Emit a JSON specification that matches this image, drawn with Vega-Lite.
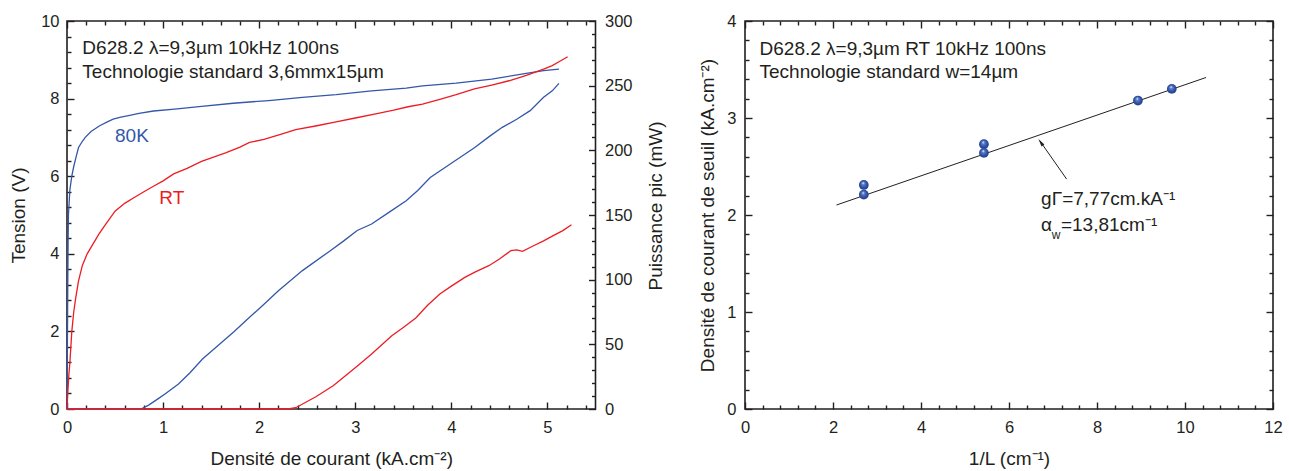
{
  "$schema": "https://vega.github.io/schema/vega-lite/v6.json",
  "background": "white",
  "padding": {"left": 8, "top": 12, "right": 5, "bottom": 5},
  "spacing": 149,
  "bounds": "flush",
  "config": {
    "font": "Liberation Sans",
    "view": {"stroke": "#231f20", "strokeWidth": 1.6},
    "axis": {"grid": false, "domain": false, "zindex": 1, "labelColor": "#231f20", "titleColor": "#231f20", "labelFont": "Liberation Sans", "titleFont": "Liberation Sans", "labelFontSize": 16.5, "titleFontSize": 19, "titleFontWeight": "normal", "labelFlush": false, "labelOverlap": false},
    "text": {"font": "Liberation Sans"}
  },
  "datasets": {
    "iv": [
      {"T":"80K","J":0,"V":0},{"T":"80K","J":0.004,"V":1.5},{"T":"80K","J":0.008,"V":3.2},{"T":"80K","J":0.012,"V":4.4},{"T":"80K","J":0.015,"V":5.0},{"T":"80K","J":0.03,"V":5.65},{"T":"80K","J":0.05,"V":6.0},{"T":"80K","J":0.07,"V":6.25},{"T":"80K","J":0.1,"V":6.55},{"T":"80K","J":0.12,"V":6.74},{"T":"80K","J":0.16,"V":6.9},{"T":"80K","J":0.19,"V":7.0},{"T":"80K","J":0.25,"V":7.15},{"T":"80K","J":0.34,"V":7.3},{"T":"80K","J":0.42,"V":7.4},{"T":"80K","J":0.48,"V":7.47},{"T":"80K","J":0.56,"V":7.52},{"T":"80K","J":0.64,"V":7.56},{"T":"80K","J":0.75,"V":7.62},{"T":"80K","J":0.9,"V":7.68},{"T":"80K","J":1.12,"V":7.73},{"T":"80K","J":1.4,"V":7.8},{"T":"80K","J":1.73,"V":7.88},{"T":"80K","J":2.1,"V":7.95},{"T":"80K","J":2.45,"V":8.03},{"T":"80K","J":2.8,"V":8.1},{"T":"80K","J":3.17,"V":8.2},{"T":"80K","J":3.53,"V":8.27},{"T":"80K","J":3.7,"V":8.33},{"T":"80K","J":4.05,"V":8.4},{"T":"80K","J":4.42,"V":8.5},{"T":"80K","J":4.78,"V":8.65},{"T":"80K","J":4.96,"V":8.72},{"T":"80K","J":5.12,"V":8.76},
      {"T":"RT","J":0,"V":0},{"T":"RT","J":0.01,"V":0.5},{"T":"RT","J":0.02,"V":0.9},{"T":"RT","J":0.03,"V":1.2},{"T":"RT","J":0.05,"V":2.0},{"T":"RT","J":0.07,"V":2.5},{"T":"RT","J":0.09,"V":2.85},{"T":"RT","J":0.12,"V":3.3},{"T":"RT","J":0.16,"V":3.7},{"T":"RT","J":0.21,"V":4.0},{"T":"RT","J":0.27,"V":4.25},{"T":"RT","J":0.33,"V":4.5},{"T":"RT","J":0.4,"V":4.75},{"T":"RT","J":0.5,"V":5.1},{"T":"RT","J":0.6,"V":5.3},{"T":"RT","J":0.7,"V":5.45},{"T":"RT","J":0.8,"V":5.6},{"T":"RT","J":0.9,"V":5.74},{"T":"RT","J":1.0,"V":5.88},{"T":"RT","J":1.11,"V":6.06},{"T":"RT","J":1.25,"V":6.2},{"T":"RT","J":1.4,"V":6.38},{"T":"RT","J":1.51,"V":6.48},{"T":"RT","J":1.65,"V":6.6},{"T":"RT","J":1.8,"V":6.75},{"T":"RT","J":1.9,"V":6.87},{"T":"RT","J":2.05,"V":6.95},{"T":"RT","J":2.24,"V":7.09},{"T":"RT","J":2.38,"V":7.2},{"T":"RT","J":2.6,"V":7.3},{"T":"RT","J":2.8,"V":7.4},{"T":"RT","J":3.0,"V":7.5},{"T":"RT","J":3.2,"V":7.6},{"T":"RT","J":3.4,"V":7.7},{"T":"RT","J":3.55,"V":7.79},{"T":"RT","J":3.7,"V":7.86},{"T":"RT","J":3.88,"V":7.98},{"T":"RT","J":4.05,"V":8.1},{"T":"RT","J":4.24,"V":8.25},{"T":"RT","J":4.42,"V":8.35},{"T":"RT","J":4.6,"V":8.46},{"T":"RT","J":4.78,"V":8.6},{"T":"RT","J":4.96,"V":8.76},{"T":"RT","J":5.05,"V":8.85},{"T":"RT","J":5.12,"V":8.95},{"T":"RT","J":5.21,"V":9.08}
    ],
    "ip": [
      {"T":"80K","J":0,"P":0},{"T":"80K","J":0.77,"P":0},{"T":"80K","J":0.85,"P":3},{"T":"80K","J":0.95,"P":8},{"T":"80K","J":1.02,"P":11.6},{"T":"80K","J":1.16,"P":19.3},{"T":"80K","J":1.28,"P":28},{"T":"80K","J":1.41,"P":38.7},{"T":"80K","J":1.59,"P":50.3},{"T":"80K","J":1.74,"P":60},{"T":"80K","J":1.88,"P":69.6},{"T":"80K","J":2.05,"P":81},{"T":"80K","J":2.2,"P":91.5},{"T":"80K","J":2.45,"P":107},{"T":"80K","J":2.74,"P":122.4},{"T":"80K","J":2.88,"P":130},{"T":"80K","J":3.02,"P":138},{"T":"80K","J":3.17,"P":143},{"T":"80K","J":3.35,"P":152},{"T":"80K","J":3.53,"P":161},{"T":"80K","J":3.65,"P":169},{"T":"80K","J":3.78,"P":179},{"T":"80K","J":4.0,"P":190},{"T":"80K","J":4.24,"P":202},{"T":"80K","J":4.4,"P":211},{"T":"80K","J":4.53,"P":217.8},{"T":"80K","J":4.68,"P":224},{"T":"80K","J":4.82,"P":230.7},{"T":"80K","J":4.96,"P":241},{"T":"80K","J":5.05,"P":246},{"T":"80K","J":5.12,"P":251.8},
      {"T":"RT","J":0,"P":0},{"T":"RT","J":2.3,"P":0},{"T":"RT","J":2.38,"P":1},{"T":"RT","J":2.48,"P":5},{"T":"RT","J":2.59,"P":9.5},{"T":"RT","J":2.77,"P":18},{"T":"RT","J":2.92,"P":27},{"T":"RT","J":3.05,"P":35},{"T":"RT","J":3.17,"P":42.5},{"T":"RT","J":3.38,"P":56.7},{"T":"RT","J":3.5,"P":63},{"T":"RT","J":3.63,"P":70.4},{"T":"RT","J":3.75,"P":80},{"T":"RT","J":3.88,"P":88.9},{"T":"RT","J":4.0,"P":95},{"T":"RT","J":4.14,"P":101.8},{"T":"RT","J":4.25,"P":106},{"T":"RT","J":4.39,"P":110.8},{"T":"RT","J":4.5,"P":116},{"T":"RT","J":4.62,"P":122.4},{"T":"RT","J":4.68,"P":123},{"T":"RT","J":4.74,"P":121.9},{"T":"RT","J":4.85,"P":126},{"T":"RT","J":4.96,"P":130},{"T":"RT","J":5.06,"P":134},{"T":"RT","J":5.16,"P":137.9},{"T":"RT","J":5.25,"P":142.5}
    ],
    "thr": [
      {"invL":2.7,"Jth":2.31},{"invL":2.7,"Jth":2.21},{"invL":5.43,"Jth":2.73},{"invL":5.43,"Jth":2.64},{"invL":8.93,"Jth":3.18},{"invL":9.7,"Jth":3.3}
    ],
    "fit": [
      {"invL":2.08,"Jth":2.103},{"invL":10.48,"Jth":3.418}
    ]
  },
  "hconcat": [
    {
      "width": 528.5,
      "height": 388,
      "resolve": {"scale": {"y": "independent"}, "axis": {"x": "independent", "y": "independent"}},
      "layer": [
        {
          "data": {"name": "iv"},
          "mark": {"type": "line", "strokeWidth": 1.3},
          "encoding": {
            "x": {"field": "J", "type": "quantitative", "scale": {"domain": [0, 5.5], "nice": false, "zero": false},
              "axis": {"orient": "bottom", "values": [0,1,2,3,4,5], "ticks": true, "tickColor": "#231f20", "tickWidth": 1.4, "offset": -7, "tickSize": 7, "labelPadding": 10, "title": "Densité de courant (kA.cm⁻²)", "titlePadding": 14}},
            "y": {"field": "V", "type": "quantitative", "scale": {"domain": [0, 10], "nice": false},
              "axis": {"orient": "left", "values": [0,2,4,6,8,10], "ticks": true, "tickColor": "#231f20", "tickWidth": 1.4, "offset": -7, "tickSize": 7, "labelPadding": 8, "title": "Tension (V)", "titlePadding": 12}},
            "color": {"field": "T", "type": "nominal", "scale": {"domain": ["80K", "RT"], "range": ["#3457a8", "#ed1c24"]}, "legend": null}
          }
        },
        {
          "data": {"name": "ip"},
          "mark": {"type": "line", "strokeWidth": 1.3},
          "encoding": {
            "x": {"field": "J", "type": "quantitative", "scale": {"domain": [0, 5.5], "nice": false, "zero": false},
              "axis": {"orient": "top", "values": [0,1,2,3,4,5], "ticks": true, "tickColor": "#231f20", "tickWidth": 1.4, "offset": -7, "tickSize": 7, "labels": false, "title": null}},
            "y": {"field": "P", "type": "quantitative", "scale": {"domain": [0, 300], "nice": false},
              "axis": {"orient": "right", "values": [0,50,100,150,200,250,300], "ticks": true, "tickColor": "#231f20", "tickWidth": 1.4, "offset": -7, "tickSize": 7, "labelPadding": 9, "title": "Puissance pic (mW)", "titlePadding": 14, "titleAngle": 270, "titleBaseline": "top", "titleY": 184.5}},
            "color": {"field": "T", "type": "nominal", "scale": {"domain": ["80K", "RT"], "range": ["#3457a8", "#ed1c24"]}, "legend": null}
          }
        },
        {
          "data": {"values": [{}]},
          "mark": {"type": "point", "opacity": 0},
          "encoding": {
            "x": {"datum": 1, "type": "quantitative", "scale": {"domain": [0, 5.5], "nice": false, "zero": false},
              "axis": {"orient": "bottom", "values": [0.2,0.4,0.6,0.8,1.2,1.4,1.6,1.8,2.2,2.4,2.6,2.8,3.2,3.4,3.6,3.8,4.2,4.4,4.6,4.8,5.2,5.4], "ticks": true, "tickColor": "#231f20", "tickWidth": 1.4, "offset": -4, "tickSize": 4, "labels": false, "title": null}},
            "y": {"datum": 1, "type": "quantitative", "scale": {"domain": [0, 10], "nice": false},
              "axis": {"orient": "left", "values": [0.4,0.8,1.2,1.6,2.4,2.8,3.2,3.6,4.4,4.8,5.2,5.6,6.4,6.8,7.2,7.6,8.4,8.8,9.2,9.6], "ticks": true, "tickColor": "#231f20", "tickWidth": 1.4, "offset": -4, "tickSize": 4, "labels": false, "title": null}}
          }
        },
        {
          "data": {"values": [{}]},
          "mark": {"type": "point", "opacity": 0},
          "encoding": {
            "x": {"datum": 1, "type": "quantitative", "scale": {"domain": [0, 5.5], "nice": false, "zero": false},
              "axis": {"orient": "top", "values": [0.2,0.4,0.6,0.8,1.2,1.4,1.6,1.8,2.2,2.4,2.6,2.8,3.2,3.4,3.6,3.8,4.2,4.4,4.6,4.8,5.2,5.4], "ticks": true, "tickColor": "#231f20", "tickWidth": 1.4, "offset": -4, "tickSize": 4, "labels": false, "title": null}},
            "y": {"datum": 1, "type": "quantitative", "scale": {"domain": [0, 300], "nice": false},
              "axis": {"orient": "right", "values": [10,20,30,40,60,70,80,90,110,120,130,140,160,170,180,190,210,220,230,240,260,270,280,290], "ticks": true, "tickColor": "#231f20", "tickWidth": 1.4, "offset": -4, "tickSize": 4, "labels": false, "title": null}}
          }
        },
        {
          "data": {"values": [{}]},
          "mark": {"type": "text", "align": "left", "baseline": "alphabetic", "fontSize": 19, "color": "#231f20", "text": "D628.2 λ=9,3µm 10kHz 100ns"},
          "encoding": {
            "x": {"datum": 0.16, "type": "quantitative", "scale": {"domain": [0, 5.5], "nice": false, "zero": false}, "axis": null},
            "y": {"datum": 9.15, "type": "quantitative", "scale": {"domain": [0, 10], "nice": false}, "axis": null}
          }
        },
        {
          "data": {"values": [{}]},
          "mark": {"type": "text", "align": "left", "baseline": "alphabetic", "fontSize": 19, "color": "#231f20", "text": "Technologie standard 3,6mmx15µm"},
          "encoding": {
            "x": {"datum": 0.16, "type": "quantitative", "scale": {"domain": [0, 5.5], "nice": false, "zero": false}, "axis": null},
            "y": {"datum": 8.53, "type": "quantitative", "scale": {"domain": [0, 10], "nice": false}, "axis": null}
          }
        },
        {
          "data": {"values": [{}]},
          "mark": {"type": "text", "align": "left", "baseline": "alphabetic", "fontSize": 19, "color": "#3457a8", "text": "80K"},
          "encoding": {
            "x": {"datum": 0.5, "type": "quantitative", "scale": {"domain": [0, 5.5], "nice": false, "zero": false}, "axis": null},
            "y": {"datum": 6.87, "type": "quantitative", "scale": {"domain": [0, 10], "nice": false}, "axis": null}
          }
        },
        {
          "data": {"values": [{}]},
          "mark": {"type": "text", "align": "left", "baseline": "alphabetic", "fontSize": 19, "color": "#ed1c24", "text": "RT"},
          "encoding": {
            "x": {"datum": 0.96, "type": "quantitative", "scale": {"domain": [0, 5.5], "nice": false, "zero": false}, "axis": null},
            "y": {"datum": 5.28, "type": "quantitative", "scale": {"domain": [0, 10], "nice": false}, "axis": null}
          }
        }
      ]
    },
    {
      "width": 528,
      "height": 388,
      "resolve": {"axis": {"x": "independent", "y": "independent"}},
      "layer": [
        {
          "data": {"name": "fit"},
          "mark": {"type": "line", "color": "#231f20", "strokeWidth": 1},
          "encoding": {
            "x": {"field": "invL", "type": "quantitative", "scale": {"domain": [0, 12], "nice": false},
              "axis": {"orient": "bottom", "values": [0,2,4,6,8,10,12], "ticks": true, "tickColor": "#231f20", "tickWidth": 1.4, "offset": -7, "tickSize": 7, "labelPadding": 10, "title": "1/L (cm⁻¹)", "titlePadding": 14}},
            "y": {"field": "Jth", "type": "quantitative", "scale": {"domain": [0, 4], "nice": false},
              "axis": {"orient": "left", "values": [0,1,2,3,4], "ticks": true, "tickColor": "#231f20", "tickWidth": 1.4, "offset": -7, "tickSize": 7, "labelPadding": 9, "title": "Densité de courant de seuil (kA.cm⁻²)", "titlePadding": 9}}
          }
        },
        {
          "data": {"name": "thr"},
          "mark": {"type": "point", "filled": true, "size": 95, "opacity": 1, "strokeWidth": 0,
            "color": {"gradient": "radial", "x1": 0.42, "y1": 0.3, "r1": 0.02, "x2": 0.5, "y2": 0.5, "r2": 0.55,
              "stops": [{"offset": 0, "color": "#f2f4fa"}, {"offset": 0.22, "color": "#5f7fcb"}, {"offset": 0.6, "color": "#3153a6"}, {"offset": 1, "color": "#1f3a85"}]}},
          "encoding": {
            "x": {"field": "invL", "type": "quantitative", "scale": {"domain": [0, 12], "nice": false},
              "axis": {"orient": "top", "values": [0,2,4,6,8,10,12], "ticks": true, "tickColor": "#231f20", "tickWidth": 1.4, "offset": -7, "tickSize": 7, "labels": false, "title": null}},
            "y": {"field": "Jth", "type": "quantitative", "scale": {"domain": [0, 4], "nice": false},
              "axis": {"orient": "right", "values": [0,1,2,3,4], "ticks": true, "tickColor": "#231f20", "tickWidth": 1.4, "offset": -7, "tickSize": 7, "labels": false, "title": null}}
          }
        },
        {
          "data": {"values": [{}]},
          "mark": {"type": "point", "opacity": 0},
          "encoding": {
            "x": {"datum": 1, "type": "quantitative", "scale": {"domain": [0, 12], "nice": false},
              "axis": {"orient": "bottom", "values": [0.4,0.8,1.2,1.6,2.4,2.8,3.2,3.6,4.4,4.8,5.2,5.6,6.4,6.8,7.2,7.6,8.4,8.8,9.2,9.6,10.4,10.8,11.2,11.6], "ticks": true, "tickColor": "#231f20", "tickWidth": 1.4, "offset": -4, "tickSize": 4, "labels": false, "title": null}},
            "y": {"datum": 1, "type": "quantitative", "scale": {"domain": [0, 4], "nice": false},
              "axis": {"orient": "left", "values": [0.2,0.4,0.6,0.8,1.2,1.4,1.6,1.8,2.2,2.4,2.6,2.8,3.2,3.4,3.6,3.8], "ticks": true, "tickColor": "#231f20", "tickWidth": 1.4, "offset": -4, "tickSize": 4, "labels": false, "title": null}}
          }
        },
        {
          "data": {"values": [{}]},
          "mark": {"type": "point", "opacity": 0},
          "encoding": {
            "x": {"datum": 1, "type": "quantitative", "scale": {"domain": [0, 12], "nice": false},
              "axis": {"orient": "top", "values": [0.4,0.8,1.2,1.6,2.4,2.8,3.2,3.6,4.4,4.8,5.2,5.6,6.4,6.8,7.2,7.6,8.4,8.8,9.2,9.6,10.4,10.8,11.2,11.6], "ticks": true, "tickColor": "#231f20", "tickWidth": 1.4, "offset": -4, "tickSize": 4, "labels": false, "title": null}},
            "y": {"datum": 1, "type": "quantitative", "scale": {"domain": [0, 4], "nice": false},
              "axis": {"orient": "right", "values": [0.2,0.4,0.6,0.8,1.2,1.4,1.6,1.8,2.2,2.4,2.6,2.8,3.2,3.4,3.6,3.8], "ticks": true, "tickColor": "#231f20", "tickWidth": 1.4, "offset": -4, "tickSize": 4, "labels": false, "title": null}}
          }
        },
        {
          "data": {"values": [{}]},
          "mark": {"type": "rule", "color": "#231f20", "strokeWidth": 1},
          "encoding": {
            "x": {"datum": 7.31, "type": "quantitative", "scale": {"domain": [0, 12], "nice": false}, "axis": null},
            "y": {"datum": 2.37, "type": "quantitative", "scale": {"domain": [0, 4], "nice": false}, "axis": null},
            "x2": {"datum": 6.7},
            "y2": {"datum": 2.765}
          }
        },
        {
          "data": {"values": [{}]},
          "mark": {"type": "point", "filled": true, "color": "#231f20", "opacity": 1, "size": 60, "shape": "M0,-1L0.45,1L-0.45,1Z", "angle": 324.6},
          "encoding": {
            "x": {"datum": 6.72, "type": "quantitative", "scale": {"domain": [0, 12], "nice": false}, "axis": null},
            "y": {"datum": 2.75, "type": "quantitative", "scale": {"domain": [0, 4], "nice": false}, "axis": null}
          }
        },
        {
          "data": {"values": [{}]},
          "mark": {"type": "text", "align": "left", "baseline": "alphabetic", "fontSize": 19, "color": "#231f20", "text": "D628.2 λ=9,3µm RT 10kHz 100ns"},
          "encoding": {
            "x": {"datum": 0.33, "type": "quantitative", "scale": {"domain": [0, 12], "nice": false}, "axis": null},
            "y": {"datum": 3.65, "type": "quantitative", "scale": {"domain": [0, 4], "nice": false}, "axis": null}
          }
        },
        {
          "data": {"values": [{}]},
          "mark": {"type": "text", "align": "left", "baseline": "alphabetic", "fontSize": 19, "color": "#231f20", "text": "Technologie standard w=14µm"},
          "encoding": {
            "x": {"datum": 0.33, "type": "quantitative", "scale": {"domain": [0, 12], "nice": false}, "axis": null},
            "y": {"datum": 3.41, "type": "quantitative", "scale": {"domain": [0, 4], "nice": false}, "axis": null}
          }
        },
        {
          "data": {"values": [{}]},
          "mark": {"type": "text", "align": "left", "baseline": "alphabetic", "fontSize": 19, "color": "#231f20", "text": "gΓ=7,77cm.kA⁻¹"},
          "encoding": {
            "x": {"datum": 6.73, "type": "quantitative", "scale": {"domain": [0, 12], "nice": false}, "axis": null},
            "y": {"datum": 2.1, "type": "quantitative", "scale": {"domain": [0, 4], "nice": false}, "axis": null}
          }
        },
        {
          "data": {"values": [{}]},
          "mark": {"type": "text", "align": "left", "baseline": "alphabetic", "fontSize": 19, "color": "#231f20", "text": "α"},
          "encoding": {
            "x": {"datum": 6.73, "type": "quantitative", "scale": {"domain": [0, 12], "nice": false}, "axis": null},
            "y": {"datum": 1.83, "type": "quantitative", "scale": {"domain": [0, 4], "nice": false}, "axis": null}
          }
        },
        {
          "data": {"values": [{}]},
          "mark": {"type": "text", "align": "left", "baseline": "alphabetic", "fontSize": 12, "color": "#231f20", "text": "w"},
          "encoding": {
            "x": {"datum": 6.97, "type": "quantitative", "scale": {"domain": [0, 12], "nice": false}, "axis": null},
            "y": {"datum": 1.75, "type": "quantitative", "scale": {"domain": [0, 4], "nice": false}, "axis": null}
          }
        },
        {
          "data": {"values": [{}]},
          "mark": {"type": "text", "align": "left", "baseline": "alphabetic", "fontSize": 19, "color": "#231f20", "text": "=13,81cm⁻¹"},
          "encoding": {
            "x": {"datum": 7.18, "type": "quantitative", "scale": {"domain": [0, 12], "nice": false}, "axis": null},
            "y": {"datum": 1.83, "type": "quantitative", "scale": {"domain": [0, 4], "nice": false}, "axis": null}
          }
        }
      ]
    }
  ]
}
